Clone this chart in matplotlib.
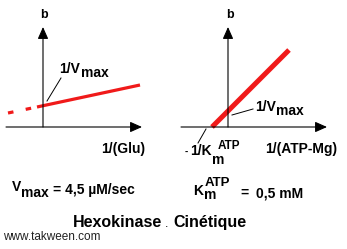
import matplotlib
matplotlib.use('Agg')
import matplotlib.pyplot as plt

plt.rcParams['font.family'] = ['Liberation Sans', 'DejaVu Sans']
plt.rcParams['lines.scale_dashes'] = False

W, H = 347, 249
RED = '#f01a1a'

# Lineweaver-Burk schematic values (panel units, origin where the axes cross)
glu_dash_x = [-3.5, -0.6]
glu_dash_y = [1.4, 2.0]
glu_solid_x = [-0.6, 9.7]
glu_solid_y = [2.0, 4.2]

atp_x = [-1.6, 6.1]
atp_y = [0.0, 7.7]

# axis extents of each panel (x min, x max, y max)
left_axis = [-3.7, 9.9, 10.0]
right_axis = [-4.7, 9.9, 10.0]

fig = plt.figure(figsize=(W / 100, H / 100), dpi=100)
fig.patch.set_facecolor('white')


def panel(x0, x1, ox, oy=127, top=0, bottom=170):
    # axes over pixel box [x0, x1] x [top, bottom], 1 unit = 10 px, origin at (ox, oy)
    ax = fig.add_axes([x0 / W, 1 - bottom / H, (x1 - x0) / W, (bottom - top) / H])
    ax.set_xlim((x0 - ox) / 10, (x1 - ox) / 10)
    ax.set_ylim((oy - bottom) / 10, (oy - top) / 10)
    ax.axis('off')
    return ax


def axes_arrows(ax, ext):
    xmin, xmax, ymax = ext
    style = dict(arrowstyle='-|>,head_length=0.72,head_width=0.32', color='black',
                 lw=0.8, shrinkA=0, shrinkB=0, mutation_scale=10)
    ax.annotate('', xy=(xmax, 0), xytext=(xmin, 0), arrowprops=style)
    ax.annotate('', xy=(0, ymax), xytext=(0, 0), arrowprops=style)


def ptext(x, y, s, size=10, weight='bold', **kw):
    fig.text(x / W, 1 - y / H, s, fontsize=size, fontweight=weight,
             ha=kw.pop('ha', 'left'), va='baseline', **kw)


# left panel: 1/(Glu)
ax1 = panel(0, 175, 43)
axes_arrows(ax1, left_axis)
ax1.plot(glu_dash_x, glu_dash_y, color=RED, lw=2.3, dashes=[4, 9], solid_capstyle='butt')
ax1.plot(glu_solid_x, glu_solid_y, color=RED, lw=2.3, solid_capstyle='butt')
ax1.plot([0.4, 1.8], [2.6, 4.9], color='black', lw=0.7)

# right panel: 1/(ATP-Mg)
ax2 = panel(175, 347, 228)
axes_arrows(ax2, right_axis)
ax2.plot(atp_x, atp_y, color=RED, lw=3.6, solid_capstyle='butt')
ax2.plot([0.4, 2.5], [1.2, 1.8], color='black', lw=0.7)
ax2.plot([-2.2, -3.0], [-0.2, -1.6], color='black', lw=0.7)

# panel labels
ptext(43.5, 18, 'b', size=9, ha='center')
ptext(229.5, 18, 'b', size=9, ha='center')
ptext(59, 73, '1/V')
ptext(81, 77, 'max')
ptext(101, 153, '1/(Glu)')
ptext(255, 111, '1/V')
ptext(276, 115, 'max')
ptext(185, 155, '-', size=7)
ptext(190, 155, '1/K')
ptext(212, 164, 'm')
ptext(218, 149, 'ATP', size=8.5)
ptext(265, 153, '1/(ATP-Mg)')

# constants
ptext(12, 191, 'V')
ptext(21, 197, 'max')
ptext(53, 194, '= 4,5 µM/sec')
ptext(193, 195, 'K')
ptext(204, 199, 'm')
ptext(205, 186, 'ATP', size=9.5)
ptext(240, 197, '=')
ptext(256, 197, '0,5 mM')

# title and credit
ptext(73, 227, 'Hexokinase', size=11.5)
ptext(165, 227, '.', size=9, weight='normal')
ptext(173, 227, 'Cinétique', size=11.5)
ptext(3, 240, 'www.takween.com', size=8.5, weight='normal', color='#222222')

fig.savefig('out.png', dpi=100, facecolor='white')
